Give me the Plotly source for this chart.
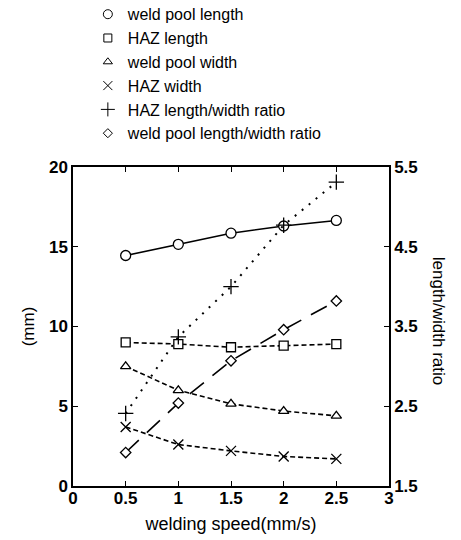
import plotly.graph_objects as go

speed = [0.5, 1.0, 1.5, 2.0, 2.5]
weld_pool_length = [14.45, 15.15, 15.85, 16.3, 16.65]
haz_length = [9.0, 8.9, 8.7, 8.8, 8.9]
weld_pool_width = [7.5, 6.0, 5.15, 4.7, 4.4]
haz_width = [3.7, 2.6, 2.2, 1.85, 1.7]
haz_ratio = [2.41, 3.37, 4.0, 4.77, 5.31]
weld_pool_ratio = [1.92, 2.54, 3.07, 3.46, 3.82]

x_ticks = [0, 0.5, 1, 1.5, 2, 2.5, 3]
x_tick_labels = ["0", "0.5", "1", "1.5", "2", "2.5", "3"]
y_ticks = [0, 5, 10, 15, 20]
y2_ticks = [1.5, 2.5, 3.5, 4.5, 5.5]

FONT = "Liberation Sans, Arial, sans-serif"

series = [
    ("weld pool length", weld_pool_length, "y", "circle", 10, "solid", "white"),
    ("HAZ length", haz_length, "y", "square", 9, "5px,3px", "white"),
    ("weld pool width", weld_pool_width, "y", "triangle-up", 9, "5px,3px", "white"),
    ("HAZ width", haz_width, "y", "x-thin-open", 10, "5px,3px", "black"),
    ("HAZ length/width ratio", haz_ratio, "y2", "cross-thin-open", 11, "2px,7px", "black"),
    ("weld pool length/width ratio", weld_pool_ratio, "y2", "diamond", 8, "18px,11px", "white"),
]

fig = go.Figure()
for name, vals, ax, sym, size, dash, fill in series:
    fig.add_trace(go.Scatter(
        x=speed, y=vals, yaxis=ax, mode="lines+markers", name=name,
        showlegend=False,
        line=dict(color="black", width=2 if dash == "2px,7px" else 1.6, dash=dash),
        marker=dict(symbol=sym, size=size, color=fill,
                    line=dict(color="black", width=1.3)),
    ))
for name, vals, ax, sym, size, dash, fill in series:
    fig.add_trace(go.Scatter(
        x=[None], y=[None], mode="markers", name=name,
        showlegend=True,
        marker=dict(symbol=sym, size=size - 1, color=fill,
                    line=dict(color="black", width=1.0)),
    ))

tickfont = dict(size=17, family=FONT, weight="bold")

fig.update_layout(
    width=461, height=540,
    margin=dict(l=73, r=72, t=167, b=54, autoexpand=False),
    paper_bgcolor="white", plot_bgcolor="white",
    font=dict(family=FONT, color="black"),
    legend=dict(x=0.047, y=1.532, xanchor="left", yanchor="top",
                font=dict(size=16, family=FONT),
                bgcolor="rgba(0,0,0,0)", itemsizing="trace"),
    xaxis=dict(range=[0, 3], tickvals=x_ticks, ticktext=x_tick_labels,
               ticks="inside", ticklen=5, tickcolor="black",
               showline=True, linecolor="black", linewidth=1.5,
               mirror="ticks", showgrid=False, zeroline=False,
               tickfont=tickfont, ticklabelstandoff=-4,
               title=dict(text="welding speed(mm/s)", font=dict(size=18), standoff=10)),
    yaxis=dict(range=[0, 20], tickvals=y_ticks,
               ticks="inside", ticklen=5, tickcolor="black",
               showline=True, linecolor="black", linewidth=1.5,
               mirror="ticks", showgrid=False, zeroline=False,
               tickfont=tickfont,
               title=dict(text="(mm)", font=dict(size=17), standoff=10)),
    yaxis2=dict(range=[1.5, 5.5], tickvals=y2_ticks, overlaying="y", side="right",
                ticks="inside", ticklen=5, tickcolor="black",
                showline=True, linecolor="black", linewidth=1.5,
                showgrid=False, zeroline=False, tickfont=tickfont),
    annotations=[dict(text="length/width ratio", textangle=90, xref="paper", yref="paper",
                      x=1.155, y=0.515, xanchor="center", yanchor="middle",
                      showarrow=False, font=dict(size=17, family=FONT))],
)

fig.write_html("out.html")
